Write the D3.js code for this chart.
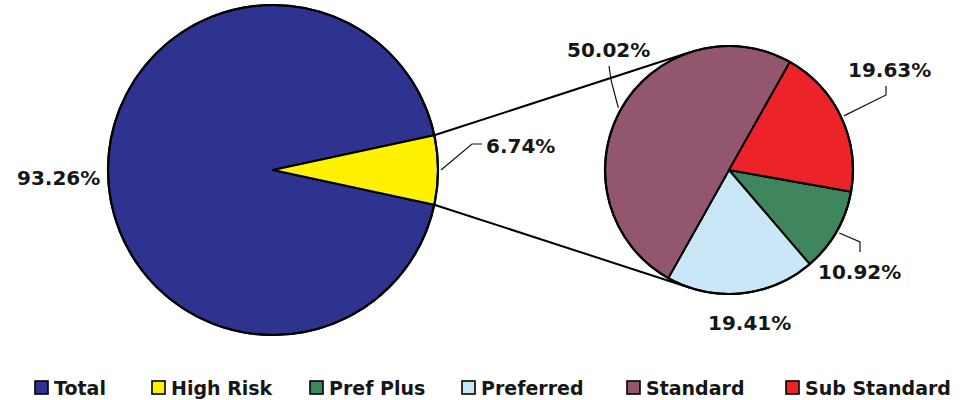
<!DOCTYPE html>
<html>
<head>
<meta charset="utf-8">
<script src="https://cdn.jsdelivr.net/npm/d3@7"></script>
<style>
  html, body { margin: 0; padding: 0; background: #fff; }
  svg { display: block; }
  text { font-family: "DejaVu Sans", Verdana, sans-serif; font-weight: bold; fill: #161616; }
</style>
</head>
<body>
<svg id="chart" width="973" height="400"></svg>
<script>
// Primary pie: the whole book, with High Risk split out
const mainCategories = ["Total", "High Risk"];
const mainValues = [93.26, 6.74];

// Secondary pie: breakdown of the High Risk share
const subCategories = ["Pref Plus", "Preferred", "Standard", "Sub Standard"];
const subValues = [10.92, 19.41, 50.02, 19.63];

// Legend entries, in drawing order
const legendLabels = ["Total", "High Risk", "Pref Plus", "Preferred", "Standard", "Sub Standard"];

const colors = {
  "Total": "#2f3390",
  "High Risk": "#fff200",
  "Pref Plus": "#3f865e",
  "Preferred": "#c9e7f7",
  "Standard": "#93566f",
  "Sub Standard": "#ec2329"
};

const svg = d3.select("#chart");
const deg = Math.PI / 180;

const big = { cx: 273, cy: 170, r: 165 };
const small = { cx: 729, cy: 170, r: 124 };

// Label placement: text position plus optional leader elbow points
const labelLayout = {
  "Total":        { x: 17,  y: 185, leader: null },
  "High Risk":    { x: 486, y: 153, leader: [[472, 144], [482, 144]] },
  "Standard":     { x: 567, y: 57,  leader: [[611, 80], [609, 66]] },
  "Sub Standard": { x: 848, y: 77,  leader: [[886, 95], [886, 86]] },
  "Pref Plus":    { x: 818, y: 279, leader: [[860, 242], [860, 252]] },
  "Preferred":    { x: 708, y: 330, leader: null }
};

const fmt = v => d3.format(".2f")(v) + "%";

// High Risk slice centred on the 3 o'clock direction
const hrShare = mainValues[1] / d3.sum(mainValues);
const bigStart = Math.PI / 2 + hrShare * Math.PI;
const bigPie = d3.pie().sort(null).startAngle(bigStart).endAngle(bigStart + 2 * Math.PI);
const smallStart = 100.1 * deg;
const smallPie = d3.pie().sort(null).startAngle(smallStart).endAngle(smallStart + 2 * Math.PI);

const bigArcs = bigPie(mainValues).map((d, i) => Object.assign(d, { name: mainCategories[i] }));
const smallArcs = smallPie(subValues).map((d, i) => Object.assign(d, { name: subCategories[i] }));

const polar = (c, r, a) => [c.cx + r * Math.sin(a), c.cy - r * Math.cos(a)];

// Connector lines: tangents from the High Risk slice edges to the secondary pie
const hr = bigArcs[1];
const edgePts = [polar(big, big.r, hr.startAngle), polar(big, big.r, hr.endAngle)];
function tangentPoint(p, upper) {
  const vx = p[0] - small.cx, vy = p[1] - small.cy;
  const d = Math.hypot(vx, vy);
  const phi = Math.atan2(vy, vx);
  const a = Math.acos(small.r / d);
  const t = upper ? phi + a : phi - a;
  return [small.cx + small.r * Math.cos(t), small.cy + small.r * Math.sin(t)];
}
const connectors = [
  [edgePts[0], tangentPoint(edgePts[0], true)],
  [edgePts[1], tangentPoint(edgePts[1], false)]
];

function drawPie(c, arcs) {
  const arc = d3.arc().innerRadius(0).outerRadius(c.r);
  const g = svg.append("g").attr("transform", `translate(${c.cx},${c.cy})`);
  g.selectAll("path").data(arcs).join("path")
    .attr("d", arc)
    .attr("fill", d => colors[d.name])
    .attr("stroke", "#000")
    .attr("stroke-width", 2)
    .attr("stroke-linejoin", "round");
  g.append("circle").attr("r", c.r).attr("fill", "none")
    .attr("stroke", "#000").attr("stroke-width", 2.2);
}

drawPie(big, bigArcs);
drawPie(small, smallArcs);

svg.append("g").selectAll("line").data(connectors).join("line")
  .attr("x1", d => d[0][0]).attr("y1", d => d[0][1])
  .attr("x2", d => d[1][0]).attr("y2", d => d[1][1])
  .attr("stroke", "#000").attr("stroke-width", 2);

// Data labels with leader lines
const labelled = bigArcs.map(d => ({ d, c: big })).concat(smallArcs.map(d => ({ d, c: small })));
const lg = svg.append("g");
labelled.forEach(({ d, c }) => {
  const lay = labelLayout[d.name];
  if (lay.leader) {
    const mid = (d.startAngle + d.endAngle) / 2;
    const start = polar(c, c.r + 3, mid);
    lg.append("path")
      .attr("d", d3.line()([start].concat(lay.leader)))
      .attr("fill", "none").attr("stroke", "#111").attr("stroke-width", 1.2);
  }
  lg.append("text")
    .attr("x", lay.x).attr("y", lay.y)
    .attr("font-size", 20)
    .text(fmt(d.value));
});

// Legend along the bottom
const legendX = [35, 152, 310, 462, 627, 786];
const leg = svg.append("g").selectAll("g").data(legendLabels).join("g")
  .attr("transform", (d, i) => `translate(${legendX[i]},381)`);
leg.append("rect")
  .attr("width", 13).attr("height", 13)
  .attr("fill", d => colors[d])
  .attr("stroke", "#000").attr("stroke-width", 1.6);
leg.append("text")
  .attr("x", 19).attr("y", 14)
  .attr("font-size", 19)
  .text(d => d);
</script>
</body>
</html>
